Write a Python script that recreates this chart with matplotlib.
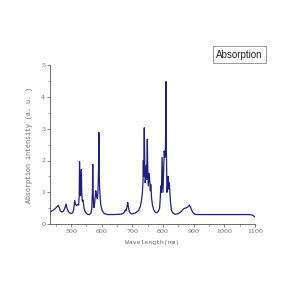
import numpy as np
import matplotlib
matplotlib.use('Agg')
import matplotlib.pyplot as plt
from matplotlib.ticker import MultipleLocator

# Absorption spectrum (wavelength in nm, intensity in a.u.)
wavelength = [430, 436, 442, 448, 455, 459, 462, 465, 470, 475, 480, 484, 487, 491,
              496, 500, 505, 509, 512, 515, 518, 522, 525, 527, 528, 529, 531, 533, 534,
              535, 537, 539, 540, 543, 546, 550, 555, 560, 565, 568, 570, 571, 572, 574,
              575, 577, 578, 580, 581, 583, 586, 588, 590, 591, 592, 594, 597, 601, 606,
              611, 620, 640, 660, 670, 675, 677, 680, 683, 685, 687, 690, 695, 700, 710,
              720, 726, 730, 733, 735, 736, 737, 739, 741, 742, 744, 746, 747, 749, 750,
              752, 753, 755, 757, 759, 760, 762, 763, 766, 770, 775, 780, 785, 789, 791,
              793, 795, 797, 799, 800, 802, 804, 806, 808, 809, 810, 811, 813, 815, 817,
              819, 820, 821, 823, 825, 828, 833, 840, 850, 860, 867, 872, 878, 883, 886,
              889, 893, 898, 904, 910, 920, 950, 1000, 1050, 1080, 1090, 1095, 1100]
intensity = [0.37, 0.40, 0.44, 0.48, 0.55, 0.59, 0.52, 0.42, 0.38, 0.40, 0.50, 0.63, 0.50, 0.40,
             0.35, 0.33, 0.35, 0.45, 0.74, 0.62, 0.58, 0.62, 0.60, 0.90, 1.97, 1.20, 0.90, 1.40, 1.72,
             1.00, 0.72, 0.76, 0.70, 0.48, 0.40, 0.34, 0.30, 0.30, 0.34, 0.50, 1.00, 1.88, 1.10, 0.55,
             0.52, 0.65, 0.75, 0.95, 1.05, 0.90, 0.80, 1.00, 1.70, 2.88, 1.60, 1.00, 0.62, 0.45, 0.36,
             0.32, 0.30, 0.30, 0.31, 0.33, 0.38, 0.45, 0.42, 0.55, 0.68, 0.55, 0.40, 0.33, 0.32, 0.35,
             0.42, 0.55, 0.75, 1.00, 1.40, 2.00, 1.50, 3.03, 1.60, 1.30, 1.50, 1.85, 1.40, 2.67, 1.90,
             1.20, 1.35, 1.60, 1.30, 1.05, 1.25, 0.95, 0.80, 0.58, 0.45, 0.37, 0.36, 0.40, 0.50, 0.80,
             1.20, 1.00, 2.10, 1.40, 1.00, 1.60, 2.30, 2.10, 2.35, 3.00, 4.48, 2.40, 1.00, 1.20, 1.50,
             1.10, 1.30, 1.25, 0.90, 0.65, 0.42, 0.34, 0.31, 0.33, 0.40, 0.48, 0.50, 0.52, 0.56, 0.60,
             0.55, 0.45, 0.36, 0.31, 0.30, 0.30, 0.30, 0.30, 0.30, 0.30, 0.29, 0.26, 0.22]

ytick_vals = [0, 1, 2, 3, 4, 5]
xtick_vals = [500, 600, 700, 800, 900, 1000, 1100]

fig = plt.figure(figsize=(3, 3), dpi=100)
ax = fig.add_axes([0.167, 0.253, 0.683, 0.53])

ax.plot(wavelength, intensity, color='#1f1f80', linewidth=0.9)

ax.set_xlim(432, 1100)
ax.set_ylim(0, 5)
ax.set_xticks(xtick_vals)
ax.set_yticks(ytick_vals)
ax.xaxis.set_minor_locator(MultipleLocator(50))
ax.yaxis.set_minor_locator(MultipleLocator(0.5))

for side in ['top', 'right']:
    ax.spines[side].set_visible(False)
for side in ['left', 'bottom']:
    ax.spines[side].set_color('#555555')
    ax.spines[side].set_linewidth(0.6)

ax.tick_params(which='major', length=2, width=0.5, colors='#555555', labelsize=4.5, pad=1.5)
ax.tick_params(which='minor', length=1.2, width=0.4, colors='#555555')
for lbl in ax.get_xticklabels() + ax.get_yticklabels():
    lbl.set_family('DejaVu Serif')
    lbl.set_color('#666666')

ax.set_xlabel('Wavelength(nm)', family='Liberation Mono', fontsize=4.6, color='#666666', labelpad=4)
ax.set_ylabel('Absorption intensity (a. u. )', family='Liberation Mono', fontsize=4.8,
              color='#666666', labelpad=6)

fig.text(0.798, 0.818, 'Absorption', ha='center', va='center', fontsize=7,
         family='Liberation Sans', color='#222222',
         bbox=dict(boxstyle='square,pad=0.35', facecolor='white', edgecolor='#888888', linewidth=0.6))

fig.savefig('out.png', dpi=100)
